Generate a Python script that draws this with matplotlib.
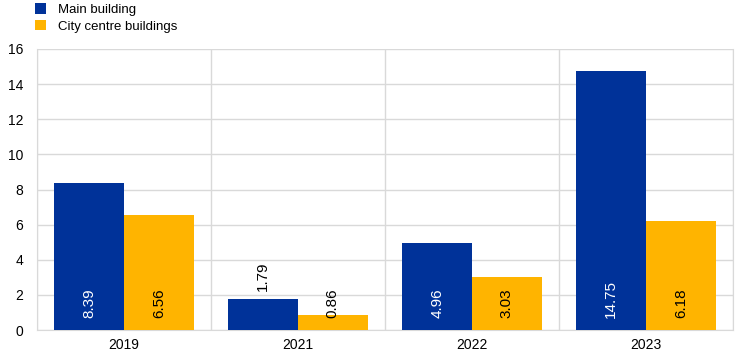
import numpy as np
import matplotlib.pyplot as plt

plt.rcParams['font.family'] = ['Liberation Sans', 'DejaVu Sans']

years = ['2019', '2021', '2022', '2023']
main_building = [8.39, 1.79, 4.96, 14.75]
city_centre = [6.56, 0.86, 3.03, 6.18]

blue = '#003299'
orange = '#FFB400'
grid_col = '#D9D9D9'

fig = plt.figure(figsize=(7.44, 3.57), dpi=100)
ax = fig.add_axes([37/744, 1 - 330/357, (733 - 37)/744, (330 - 49)/357])

x = np.arange(len(years))
w = 0.4
b1 = ax.bar(x - w/2, main_building, w, color=blue, label='Main building', zorder=3)
b2 = ax.bar(x + w/2, city_centre, w, color=orange, label='City centre buildings', zorder=3)

# value labels, rotated, near the bottom of the bars
for xi, v in zip(x - w/2, main_building):
    if v > 3:
        ax.text(xi, 0.7, '%.2f' % v, rotation=90, ha='center', va='bottom',
                color='white', fontsize=11, zorder=4)
    else:
        ax.text(xi, v + 0.45, '%.2f' % v, rotation=90, ha='center', va='bottom',
                color='black', fontsize=11, zorder=4)
for xi, v in zip(x + w/2, city_centre):
    ax.text(xi, 0.7, '%.2f' % v, rotation=90, ha='center', va='bottom',
            color='black', fontsize=11, zorder=4)

ax.set_xlim(-0.5, len(years) - 0.5)
ax.set_ylim(0, 16)
ax.set_yticks(range(0, 17, 2))
ax.set_xticks(x)
ax.set_xticklabels(years)
ax.set_xticks(np.arange(-0.5, len(years), 1), minor=True)
ax.grid(True, axis='y', color=grid_col, linewidth=1, zorder=0)
ax.grid(True, axis='x', which='minor', color=grid_col, linewidth=1, zorder=0)
ax.grid(False, axis='x', which='major')
ax.tick_params(axis='both', which='both', length=0, labelsize=10, colors='black')
ax.tick_params(axis='y', pad=10)
ax.tick_params(axis='x', pad=6)
ax.spines['top'].set_visible(False)
for s in ['left', 'right', 'bottom']:
    ax.spines[s].set_color(grid_col)

fig.legend(handles=[b1, b2], loc='upper left', bbox_to_anchor=(30/744, 1.005),
           frameon=False, fontsize=9.5, handlelength=0.8, handleheight=0.8,
           handletextpad=0.9, labelspacing=0.3, borderaxespad=0)

fig.savefig('out.png', dpi=100)
